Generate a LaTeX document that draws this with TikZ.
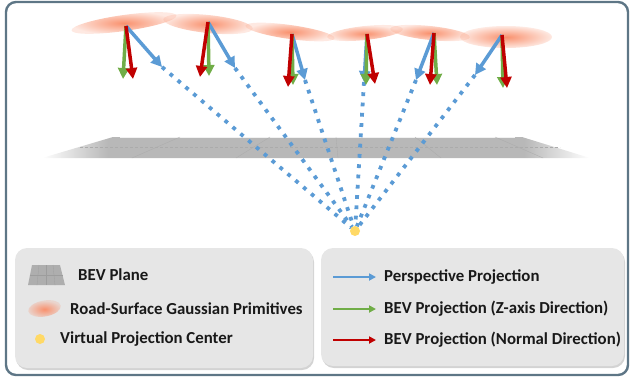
\documentclass[tikz,border=0pt]{standalone}
\usepackage{fontspec}
\setmainfont{Carlito}
\usetikzlibrary{arrows.meta,shadows,fadings}
\definecolor{frameC}{HTML}{5E7686}
\definecolor{blueA}{HTML}{5B9BD5}
\definecolor{greenA}{HTML}{70AD47}
\definecolor{redA}{HTML}{C00000}
\definecolor{gauss}{HTML}{F9916E}
\definecolor{planeC}{HTML}{B8B8B8}
\definecolor{gridC}{HTML}{ABABAB}
\definecolor{iconC}{HTML}{AEAEAE}
\definecolor{legendC}{HTML}{E6E6E6}
\definecolor{dotC}{HTML}{FFD966}
\tikzfading[name=gfade, inner color=transparent!0, outer color=transparent!80]
\pgfdeclarehorizontalshading{planeshade}{100bp}{color(0bp)=(white); color(25bp)=(white); color(31bp)=(planeC); color(69bp)=(planeC); color(75bp)=(white); color(100bp)=(white)}
\tikzset{
  bigarrow/.style={line width=3.5pt, -{Triangle[length=11pt,width=11pt]}},
  legarrow/.style={line width=2.3pt, -{Triangle[length=7pt,width=7pt]}},
  proj/.style={blueA, line width=3.8pt, dash pattern=on 3.8pt off 6.5pt, shorten >=5pt},
  legbox/.style={fill=legendC, rounded corners=12pt, drop shadow={shadow xshift=1pt, shadow yshift=-2pt, opacity=0.35}},
  legtext/.style={anchor=west, inner sep=0pt, font=\fontsize{16.8}{18}\selectfont\bfseries, text=black!90},
}
\begin{document}
\begin{tikzpicture}[x=1pt,y=-1pt]
\useasboundingbox (0,0) rectangle (631,381);
% outer frame
\draw[frameC, line width=2.4pt, rounded corners=10pt] (6,2) rectangle (628,375);

% BEV plane
\shade[shading=planeshade] (113,137) -- (522,137) -- (590,158) -- (42,158) -- cycle;
\draw[white!80!planeC, line width=0.8pt] (120,137.5) -- (515,137.5);
\draw[gridC, line width=0.3pt, dash pattern=on 3pt off 2pt] (80,147.5) -- (560,147.5);
\foreach \a/\b in {180/132, 270/236, 336/338, 415/441, 495/543}
  \draw[gridC, line width=0.3pt] (\a,137) -- (\b,158);

% Gaussian primitives
\foreach \cx/\cy/\rx/\ry/\r in {124/23/53/8/8, 208/24/45/9/-6, 290/32/45/7/-8, 365/33/38/7/6, 430/33/40/7/-6, 506/37/46/11/0}
  \fill[gauss, path fading=gfade, shift={(\cx,\cy)}, rotate=\r] (0,0) ellipse [x radius=\rx, y radius=\ry];

% centre
\coordinate (c) at (355,231);
% starts and tips
\coordinate (s1) at (126,26); \coordinate (b1) at (162,67); \coordinate (g1) at (123,79); \coordinate (r1) at (133,79);
\coordinate (s2) at (208,22); \coordinate (b2) at (235,68); \coordinate (g2) at (209,76); \coordinate (r2) at (200,77);
\coordinate (s3) at (292,34); \coordinate (b3) at (305,80); \coordinate (g3) at (293,85); \coordinate (r3) at (288,87);
\coordinate (s4) at (367,34); \coordinate (b4) at (364,82); \coordinate (g4) at (366,85); \coordinate (r4) at (375,84);
\coordinate (s5) at (434,33); \coordinate (b5) at (416,80); \coordinate (g5) at (437,85); \coordinate (r5) at (430,85);
\coordinate (s6) at (502,35); \coordinate (b6) at (475,75); \coordinate (g6) at (503,88); \coordinate (r6) at (507,88);

% projection lines
\foreach \i in {1,...,6}
  \draw[proj] (b\i) -- (c);

% arrows
\foreach \i in {1,...,6}{
  \draw[bigarrow, blueA] (s\i) -- (b\i);
  \draw[bigarrow, greenA] (s\i) -- (g\i);
  \draw[bigarrow, redA] (s\i) -- (r\i);
}

% virtual projection center
\fill[dotC] (c) circle (5);

% legends
\path[legbox] (15,248) rectangle (313,368);
\path[legbox] (321,248) rectangle (624,366);

\fill[iconC] (32,265) -- (60,265) -- (65,285) -- (28,285) -- cycle;
\foreach \a/\b in {39/37, 46/46, 53/55} \draw[iconC!90!black, line width=0.25pt] (\a,265) -- (\b,285);
\draw[iconC!90!black, line width=0.25pt] (30,275) -- (63,275);
\fill[gauss, path fading=gfade, shift={(44.5,308.5)}, rotate=10] (0,0) ellipse [x radius=16.5, y radius=8];
\fill[dotC] (40,339) circle (5);

\node[legtext] (t1) at (78,275) {BEV Plane};
\node[legtext] (t2) at (70,309) {Road-Surface Gaussian Primitives};
\node[legtext] (t3) at (60,339) {Virtual Projection Center};

\coordinate (la1) at (333,277); \coordinate (lb1) at (376,277);
\coordinate (la2) at (333,309); \coordinate (lb2) at (376,309);
\coordinate (la3) at (333,340); \coordinate (lb3) at (376,340);
\draw[legarrow, blueA] (la1) -- (lb1);
\draw[legarrow, greenA] (la2) -- (lb2);
\draw[legarrow, redA] (la3) -- (lb3);
\node[legtext] (t4) at (384,277) {Perspective Projection};
\node[legtext] (t5) at (384,309) {BEV Projection (Z-axis Direction)};
\node[legtext] (t6) at (384,340) {BEV Projection (Normal Direction)};
\end{tikzpicture}
\end{document}
